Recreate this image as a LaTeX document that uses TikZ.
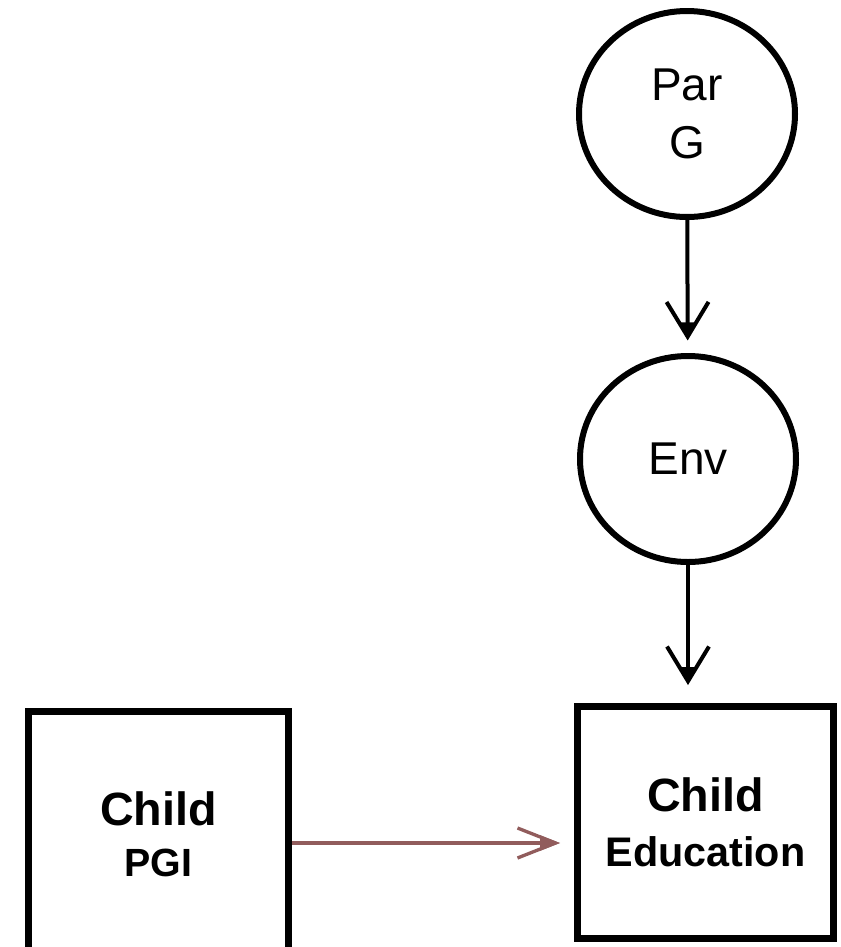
\documentclass[tikz,border=0pt]{standalone}
\usepackage{fontspec}
\setmainfont{Liberation Sans}
\usetikzlibrary{arrows.meta,shapes.geometric}

\tikzset{every picture/.style={line width=0.75pt}}
\tikzset{
	varnode/.style={draw, ellipse, line width=4.5pt, minimum width=162pt, minimum height=154.5pt, inner sep=0pt, align=center, font=\fontsize{34.5}{43}\selectfont},
	obsbox/.style={draw, rectangle, line width=5pt, inner sep=0pt, align=center, font=\fontsize{35}{41}\selectfont\bfseries},
	blackarrow/.style={line width=3pt, -{Straight Barb[length=26pt,width=31.5pt,sep=-13.5pt] Triangle[length=13.5pt,width=10.5pt]}},
	brownarrow/.style={draw={rgb, 255:red, 145; green, 92; blue, 92}, line width=2.5pt, -{Straight Barb[length=28.5pt,width=22.5pt,sep=-15pt] Triangle[length=15pt,width=11pt]}}
}

\begin{document}
\begin{tikzpicture}[x=0.75pt,y=0.75pt,yscale=-1,xscale=1]
	\useasboundingbox (0,0) rectangle (841,947);
	\clip (0,0) rectangle (841,947);

	%Shape: Ellipse [id:ParG]
	\node[varnode] (ParG) at (687,114) {Par\\G};
	%Shape: Ellipse [id:Env]
	\node[varnode] (Env) at (688,459) {Env};
	%Shape: Rectangle [id:Edu]
	\node[obsbox, minimum width=192.2pt, minimum height=174.2pt] (Edu) at (705.5,822.5) {Child\\{\fontsize{31}{41}\selectfont Education}};
	%Shape: Rectangle [id:PGI]
	\node[obsbox, minimum width=195.2pt, minimum height=184pt, font=\fontsize{35}{38}\selectfont\bfseries] (PGI) at (158.5,834) {Child\\{\fontsize{29.5}{38}\selectfont PGI}};

	%Straight Lines
	\draw[blackarrow, shorten >=9.4pt] (ParG) -- (Env);
	%Straight Lines
	\draw[blackarrow, shorten >=13.5pt] (Env) -- (Env |- Edu.north);
	%Straight Lines
	\draw[brownarrow, shorten >=10.5pt] ([yshift=6.75pt]PGI.east) -- ([yshift=6.75pt]PGI.east -| Edu.west);

\end{tikzpicture}
\end{document}
